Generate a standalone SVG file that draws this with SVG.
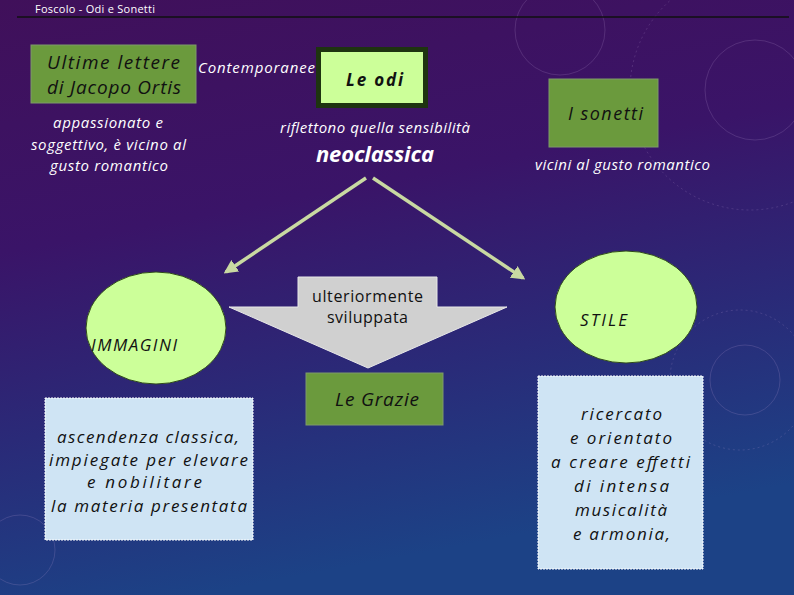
<svg xmlns="http://www.w3.org/2000/svg" width="794" height="595" viewBox="0 0 794 595">
<defs>
<linearGradient id="bg" x1="0" y1="0" x2="0.25" y2="1">
<stop offset="0" stop-color="#40105a"/>
<stop offset="0.4" stop-color="#3a1468"/>
<stop offset="0.7" stop-color="#2a2a78"/>
<stop offset="1" stop-color="#1c4286"/>
</linearGradient>
<marker id="ah" viewBox="0 0 10 10" refX="8" refY="5" markerWidth="4" markerHeight="4" orient="auto" markerUnits="strokeWidth">
<path d="M0,0 L10,5 L0,10 z" fill="#c9d9a2"/>
</marker>
<style>
.it{font-family:"Open Sans","DejaVu Sans",sans-serif;font-style:italic}
.w{fill:#ffffff}
.d{fill:#111111}
.g{fill:#6b9a3d;stroke:#7f9a6a;stroke-width:1}
.lb{fill:#cfe4f4;stroke:#ffffff;stroke-width:1;stroke-dasharray:2 1}
.el{fill:#ccff99;stroke:#2f4a1a;stroke-width:1}
.deco{fill:none;stroke:#b89ad0;stroke-opacity:0.2}
</style>
</defs>
<rect width="794" height="595" fill="url(#bg)"/>
<g id="decor">
<circle cx="560" cy="30" r="45" class="deco"/>
<circle cx="750" cy="90" r="120" class="deco" stroke-dasharray="2 3"/>
<circle cx="755" cy="90" r="50" class="deco"/>
<circle cx="745" cy="380" r="35" class="deco"/>
<circle cx="740" cy="380" r="70" class="deco" stroke-dasharray="2 3"/>
<circle cx="20" cy="550" r="35" class="deco"/>
</g>
<g id="header">
<text x="35" y="13" font-family="'Open Sans','DejaVu Sans',sans-serif" font-size="11" fill="#ffffff" textLength="120" lengthAdjust="spacing">Foscolo - Odi e Sonetti</text>
<line x1="17" y1="17" x2="789" y2="17" stroke="#111" stroke-width="1.5"/>
</g>
<g id="connectors">
<line x1="366" y1="178" x2="226" y2="272" stroke="#c9d9a2" stroke-width="3.5" marker-end="url(#ah)"/>
<line x1="373" y1="178" x2="523" y2="278" stroke="#c9d9a2" stroke-width="3.5" marker-end="url(#ah)"/>
</g>
<g id="ortis">
<rect x="31" y="45" width="165" height="58" class="g"/>
<text x="47" y="69" class="it d" font-size="19" textLength="133" lengthAdjust="spacing">Ultime lettere</text>
<text x="47" y="94" class="it d" font-size="19" textLength="134" lengthAdjust="spacing">di Jacopo Ortis</text>
</g>
<g id="contemporanee">
<text x="198" y="73" class="it w" font-size="15" textLength="117" lengthAdjust="spacing">Contemporanee</text>
</g>
<g id="odi">
<rect x="318.5" y="49.5" width="107" height="56" fill="#ccff99" stroke="#1e3410" stroke-width="5"/>
<text x="346" y="86" class="it d" font-size="17" font-weight="bold" textLength="57" lengthAdjust="spacing">Le odi</text>
</g>
<g id="ortis-desc">
<text x="53" y="128" class="it w" font-size="15" textLength="110" lengthAdjust="spacing">appassionato e</text>
<text x="31" y="150" class="it w" font-size="15" textLength="155" lengthAdjust="spacing">soggettivo, è vicino al</text>
<text x="50" y="171" class="it w" font-size="15" textLength="118" lengthAdjust="spacing">gusto romantico</text>
</g>
<g id="odi-desc">
<text x="280" y="133" class="it w" font-size="15" textLength="190" lengthAdjust="spacing">riflettono quella sensibilità</text>
<text x="316" y="162" class="it w" font-size="22" font-weight="bold" textLength="118" lengthAdjust="spacing">neoclassica</text>
</g>
<g id="sonetti">
<rect x="549" y="79" width="109" height="68" class="g"/>
<text x="568" y="120" class="it d" font-size="18" textLength="75" lengthAdjust="spacing">I sonetti</text>
<text x="535" y="170" class="it w" font-size="15" textLength="175" lengthAdjust="spacing">vicini al gusto romantico</text>
</g>
<g id="immagini">
<ellipse cx="156" cy="328" rx="70" ry="56" class="el"/>
<text x="91" y="351" class="it d" font-size="17" textLength="86" lengthAdjust="spacing">IMMAGINI</text>
</g>
<g id="stile">
<ellipse cx="626" cy="307" rx="71" ry="56" class="el"/>
<text x="580" y="326" class="it d" font-size="17" textLength="47" lengthAdjust="spacing">STILE</text>
</g>
<g id="sviluppata">
<polygon points="298,277 437,277 437,307 507,307 368,368 229,307 298,307" fill="#d0d0d0" stroke="#e8e8e8" stroke-width="1"/>
<text x="312" y="302" font-family="'Open Sans','DejaVu Sans',sans-serif" font-size="16" fill="#111" textLength="111" lengthAdjust="spacing">ulteriormente</text>
<text x="327" y="323" font-family="'Open Sans','DejaVu Sans',sans-serif" font-size="16" fill="#111" textLength="81" lengthAdjust="spacing">sviluppata</text>
</g>
<g id="grazie">
<rect x="306" y="373" width="137" height="52" class="g"/>
<text x="335" y="406" class="it d" font-size="19" textLength="84" lengthAdjust="spacing">Le Grazie</text>
</g>
<g id="immagini-desc">
<rect x="45" y="398" width="208" height="142" class="lb"/>
<text x="57" y="443" class="it d" font-size="17" textLength="182" lengthAdjust="spacing">ascendenza classica,</text>
<text x="49" y="466" class="it d" font-size="17" textLength="199" lengthAdjust="spacing">impiegate per elevare</text>
<text x="87" y="488" class="it d" font-size="17" textLength="115" lengthAdjust="spacing">e nobilitare</text>
<text x="51" y="512" class="it d" font-size="17" textLength="196" lengthAdjust="spacing">la materia presentata</text>
</g>
<g id="stile-desc">
<rect x="538" y="376" width="165" height="193" class="lb"/>
<text x="581" y="420" class="it d" font-size="17" textLength="81" lengthAdjust="spacing">ricercato</text>
<text x="570" y="444" class="it d" font-size="17" textLength="102" lengthAdjust="spacing">e orientato</text>
<text x="551" y="468" class="it d" font-size="17" textLength="139" lengthAdjust="spacing">a creare effetti</text>
<text x="574" y="492" class="it d" font-size="17" textLength="95" lengthAdjust="spacing">di intensa</text>
<text x="575" y="516" class="it d" font-size="17" textLength="92" lengthAdjust="spacing">musicalità</text>
<text x="573" y="540" class="it d" font-size="17" textLength="97" lengthAdjust="spacing">e armonia,</text>
</g>
</svg>
